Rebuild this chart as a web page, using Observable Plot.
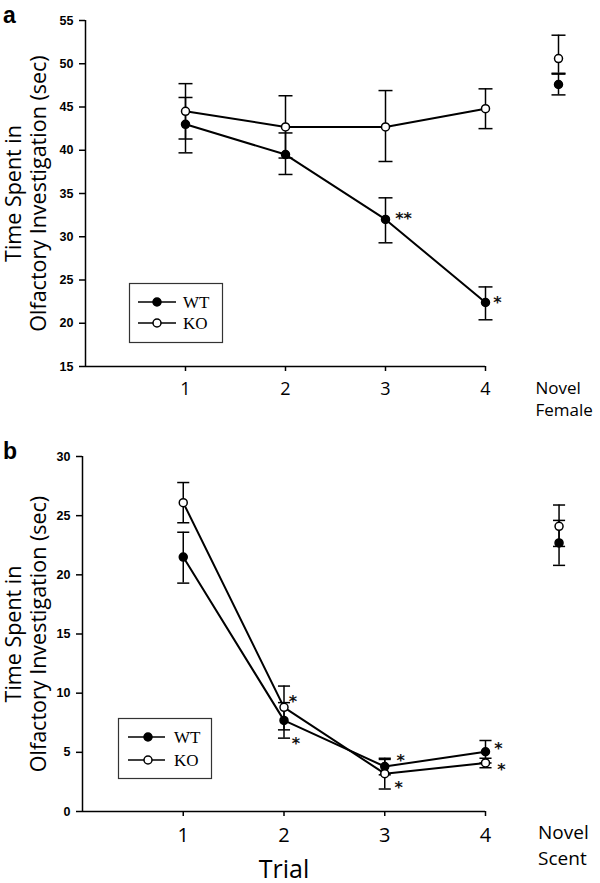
<!DOCTYPE html>
<html>
<head>
<meta charset="utf-8">
<script src="https://cdn.jsdelivr.net/npm/d3@7"></script>
<script src="https://cdn.jsdelivr.net/npm/@observablehq/plot@0.6"></script>
<style>
  body { margin: 0; background: #fff; }
  #fig { position: relative; width: 600px; height: 883px; overflow: hidden; background: #fff; }
  .panel { position: absolute; left: 0; }
  .letter { position: absolute; left: 3px; font: bold 23px "Liberation Sans", Arial, sans-serif; line-height: 1; color: #000; }
  .legend { position: absolute; }
</style>
</head>
<body>
<div id="fig"></div>
<script>
// ---------- data ----------
const trials = [1, 2, 3, 4];
const groups = ["WT", "KO"];
const yTitle = "Time Spent in\nOlfactory Investigation (sec)";

// Panel a (novel female)
const aTicks = [15, 20, 25, 30, 35, 40, 45, 50, 55];
const aWT = [43.0, 39.5, 32.0, 22.4];
const aWTLow = [39.7, 37.2, 29.3, 20.4];
const aWTHigh = [46.1, 42.0, 34.5, 24.2];
const aKO = [44.5, 42.7, 42.7, 44.8];
const aKOLow = [41.3, 39.1, 38.7, 42.5];
const aKOHigh = [47.7, 46.3, 46.9, 47.1];
const aNovel = [47.6, 50.6];      // WT, KO
const aNovelLow = [46.4, 48.9];
const aNovelHigh = [48.8, 53.3];
const aNovelLabel = "Novel\nFemale";
const aStars = [
  {group: "WT", trial: 3, text: "**"},
  {group: "WT", trial: 4, text: "*"}
];

// Panel b (novel scent)
const bTicks = [0, 5, 10, 15, 20, 25, 30];
const bWT = [21.5, 7.7, 3.8, 5.05];
const bWTLow = [19.3, 6.2, 3.1, 4.1];
const bWTHigh = [23.6, 9.2, 4.5, 6.0];
const bKO = [26.1, 8.8, 3.2, 4.1];
const bKOLow = [24.4, 6.9, 1.9, 3.7];
const bKOHigh = [27.8, 10.6, 4.4, 4.5];
const bNovel = [22.7, 24.1];      // WT, KO
const bNovelLow = [20.8, 22.4];
const bNovelHigh = [24.6, 25.9];
const bNovelLabel = "Novel\nScent";
const xTitle = "Trial";
const bStars = [
  {group: "KO", trial: 2, text: "*"},
  {group: "WT", trial: 2, text: "*"},
  {group: "WT", trial: 3, text: "*"},
  {group: "KO", trial: 3, text: "*"},
  {group: "WT", trial: 4, text: "*"},
  {group: "KO", trial: 4, text: "*"}
];

// ---------- layout ----------
const novelPos = 4.73;
const sans = "'Open Sans', 'Noto Sans', sans-serif";
const arial = "'Liberation Sans', Arial, sans-serif";
const serif = "'Liberation Serif', 'Times New Roman', serif";

function buildRows(wt, wtLo, wtHi, ko, koLo, koHi, nov, novLo, novHi) {
  const rows = [];
  trials.forEach((t, i) => rows.push({x: t, group: "WT", y: wt[i], lo: wtLo[i], hi: wtHi[i]}));
  trials.forEach((t, i) => rows.push({x: t, group: "KO", y: ko[i], lo: koLo[i], hi: koHi[i]}));
  const novel = groups.map((g, i) => ({x: novelPos, group: g, y: nov[i], lo: novLo[i], hi: novHi[i]}));
  return {rows, novel, all: rows.concat(novel)};
}

function panel(o) {
  const {rows, all} = o.data;
  const cap = o.cap;
  const starMarks = o.stars.map((s, i) => {
    const r = rows.find(d => d.group === s.group && d.x === s.trial);
    return Plot.text([{x: r.x, y: r.y, t: s.text}], {
      x: "x", y: "y", text: "t", dx: o.starOff[i][0], dy: o.starOff[i][1],
      fontSize: 16, fontWeight: "bold", fontFamily: "'DejaVu Sans', sans-serif", fill: "#111"
    });
  });
  const marks = [
    Plot.axisY({ticks: o.yTicks, tickSize: 6, tickPadding: 6, fontSize: 12.5, fontWeight: "bold",
      fontFamily: arial, strokeWidth: 1.5, label: null}),
    Plot.axisX({ticks: trials, tickSize: 5, tickPadding: o.xPad, fontSize: o.xFont,
      fontFamily: sans, strokeWidth: 1.5, label: null, tickFormat: d3.format("d")}),
    Plot.ruleX([0], {strokeWidth: 1.5}),
    Plot.ruleY([o.yDomain[0]], {strokeWidth: 1.5}),
    // error bars
    Plot.ruleX(all, {x: "x", y1: "lo", y2: "hi", strokeWidth: 1.5}),
    Plot.link(all, {x1: d => d.x - cap, x2: d => d.x + cap, y1: "lo", y2: "lo", strokeWidth: 1.5}),
    Plot.link(all, {x1: d => d.x - cap, x2: d => d.x + cap, y1: "hi", y2: "hi", strokeWidth: 1.5}),
    // series lines
    Plot.line(rows, {x: "x", y: "y", z: "group", strokeWidth: 2, stroke: "#000"}),
    // dots
    Plot.dot(all.filter(d => d.group === "WT"), {x: "x", y: "y", r: 4, fill: "#000", stroke: "#000", strokeWidth: 1.5}),
    Plot.dot(all.filter(d => d.group === "KO"), {x: "x", y: "y", r: 4, fill: "#fff", stroke: "#000", strokeWidth: 1.5}),
    ...starMarks,
    // novel label
    Plot.text([{x: novelPos, t: o.novelLabel}], {
      x: "x", text: "t", frameAnchor: "bottom", textAnchor: "start", lineAnchor: "middle",
      dx: o.novelDx, dy: o.novelDy, fontSize: o.novelFont, lineHeight: o.novelLH, fontFamily: sans, fill: "#000"
    }),
    // y title
    Plot.text([yTitle], {
      frameAnchor: "left", rotate: -90, dx: o.titleDx, fontSize: 21.5, lineHeight: 25 / 21.5,
      fontFamily: sans, fill: "#000", lineAnchor: "middle", textAnchor: "middle"
    })
  ];
  if (o.xTitle) {
    marks.push(Plot.text([{x: 2, t: o.xTitle}], {
      x: "x", text: "t", frameAnchor: "bottom", lineAnchor: "middle", dy: o.xTitleDy,
      fontSize: 25, fontFamily: sans, fill: "#000"
    }));
  }
  return Plot.plot({
    width: 600, height: o.height,
    marginLeft: o.ml, marginRight: 600 - 485, marginTop: o.mt, marginBottom: o.mb,
    x: {domain: [0, 4], axis: null},
    y: {domain: o.yDomain, axis: null},
    style: {background: "transparent", color: "#000", overflow: "visible"},
    marks
  });
}

function legend(o) {
  const svg = d3.create("svg").attr("width", o.w).attr("height", o.h)
    .style("overflow", "visible");
  svg.append("rect").attr("x", 0.5).attr("y", 0.5).attr("width", o.w - 1).attr("height", o.h - 1)
    .attr("fill", "#fff").attr("stroke", "#333").attr("stroke-width", 1.2);
  groups.forEach((g, i) => {
    const y = o.rowY[i];
    svg.append("line").attr("x1", o.lx1).attr("x2", o.lx2).attr("y1", y).attr("y2", y)
      .attr("stroke", "#000").attr("stroke-width", 1.5);
    svg.append("circle").attr("cx", o.cx).attr("cy", y).attr("r", 4)
      .attr("fill", g === "WT" ? "#000" : "#fff").attr("stroke", "#000").attr("stroke-width", 1.5);
    svg.append("text").attr("x", o.tx).attr("y", y).attr("dy", "0.35em")
      .attr("font-family", serif).attr("font-size", 17).attr("fill", "#000").text(g);
  });
  const div = document.createElement("div");
  div.className = "legend";
  div.style.left = o.left + "px";
  div.style.top = o.top + "px";
  div.appendChild(svg.node());
  return div;
}

const fig = document.getElementById("fig");

// Panel a
const aData = buildRows(aWT, aWTLow, aWTHigh, aKO, aKOLow, aKOHigh, aNovel, aNovelLow, aNovelHigh);
const plotA = panel({
  data: aData, height: 420, ml: 85, mt: 20, mb: 54, yDomain: [15, 55], yTicks: aTicks,
  cap: 0.07, stars: aStars, starOff: [[18, -1], [12, 0]],
  xPad: 11, xFont: 18, novelLabel: aNovelLabel, novelDx: -23, novelDy: 31, novelFont: 17, novelLH: 22 / 17,
  titleDx: -60.5
});
const wrapA = document.createElement("div");
wrapA.className = "panel"; wrapA.style.top = "0px";
wrapA.appendChild(plotA);
fig.appendChild(wrapA);

// Panel b
const bData = buildRows(bWT, bWTLow, bWTHigh, bKO, bKOLow, bKOHigh, bNovel, bNovelLow, bNovelHigh);
const plotB = panel({
  data: bData, height: 463, ml: 82, mt: 36, mb: 72, yDomain: [0, 30], yTicks: bTicks,
  cap: 0.06, stars: bStars, starOff: [[9, -5], [12, 23], [16, -6], [14, 14], [13, -3], [16, 7]],
  xPad: 11, xFont: 20, novelLabel: bNovelLabel, novelDx: -21, novelDy: 32, novelFont: 19, novelLH: 26 / 19,
  titleDx: -57.5, xTitle: xTitle, xTitleDy: 58
});
const wrapB = document.createElement("div");
wrapB.className = "panel"; wrapB.style.top = "420px";
wrapB.appendChild(plotB);
fig.appendChild(wrapB);

// Legends
fig.appendChild(legend({left: 129, top: 283, w: 94, h: 60, rowY: [19, 40], lx1: 9, lx2: 47, cx: 28, tx: 54}));
fig.appendChild(legend({left: 118, top: 718, w: 94, h: 61, rowY: [19, 42], lx1: 10, lx2: 47, cx: 30, tx: 56}));

// Panel letters
const la = document.createElement("div");
la.className = "letter"; la.style.top = "4px"; la.textContent = "a";
fig.appendChild(la);
const lb = document.createElement("div");
lb.className = "letter"; lb.style.top = "440px"; lb.textContent = "b";
fig.appendChild(lb);
</script>
</body>
</html>
